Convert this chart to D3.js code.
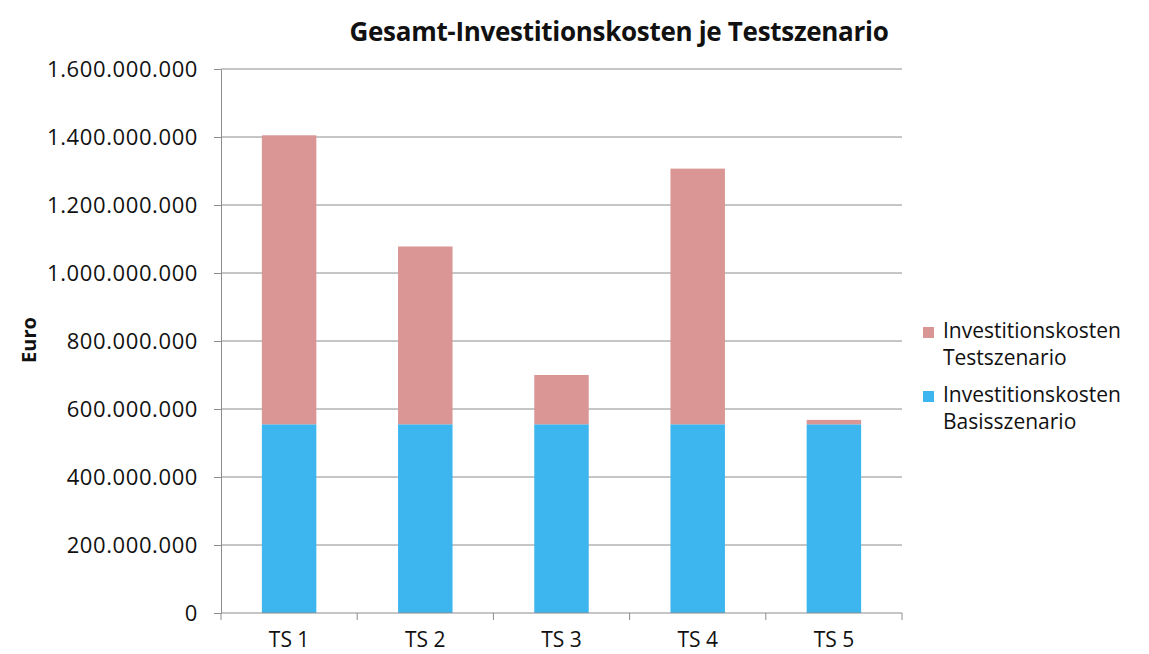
<!DOCTYPE html>
<html>
<head>
<meta charset="utf-8">
<script src="https://cdn.jsdelivr.net/npm/d3@7"></script>
<style>
  body { margin: 0; background: #fff; }
  svg { font-family: "Open Sans", "Noto Sans", sans-serif; }
</style>
</head>
<body>
<svg id="chart" width="1149" height="654"></svg>
<script>
// data
var categories = ["TS 1", "TS 2", "TS 3", "TS 4", "TS 5"];
var basisValues = [555000000, 555000000, 555000000, 555000000, 555000000];
var testValues = [850000000, 523000000, 145000000, 752000000, 13000000];
var yTicks = [0, 200000000, 400000000, 600000000, 800000000, 1000000000, 1200000000, 1400000000, 1600000000];
var seriesColors = ["#3db5ee", "#d99694"];

var svg = d3.select("#chart"),
  width = +svg.attr("width"),
  height = +svg.attr("height");

var margin = { left: 221, right: 247, top: 69, bottom: 41 };

var x = d3.scaleBand()
  .domain(categories)
  .range([margin.left, width - margin.right])
  .paddingInner(0.6)
  .paddingOuter(0.3);

var y = d3.scaleLinear()
  .domain([0, 1600000000])
  .range([height - margin.bottom, margin.top]);

// german number format
var de = d3.formatLocale({ decimal: ",", thousands: ".", grouping: [3], currency: ["", " €"] });
var fmt = de.format(",");

// gridlines
svg.append("g")
  .selectAll("line")
  .data(yTicks.slice(1))
  .enter().append("line")
  .attr("x1", margin.left)
  .attr("x2", width - margin.right)
  .attr("y1", function (d) { return y(d); })
  .attr("y2", function (d) { return y(d); })
  .attr("stroke", "#8c8c8c")
  .attr("stroke-width", 1);

// stacked bars
var rows = categories.map(function (c, i) {
  return { cat: c, basis: basisValues[i], test: testValues[i] };
});
var stack = d3.stack().keys(["basis", "test"]);
var layers = stack(rows);

svg.append("g")
  .selectAll("g")
  .data(layers)
  .enter().append("g")
  .attr("fill", function (d, i) { return seriesColors[i]; })
  .selectAll("rect")
  .data(function (d) { return d; })
  .enter().append("rect")
  .attr("x", function (d) { return x(d.data.cat); })
  .attr("width", x.bandwidth())
  .attr("y", function (d) { return y(d[1]); })
  .attr("height", function (d) { return y(d[0]) - y(d[1]); });

// y axis
var yAxis = svg.append("g")
  .attr("transform", "translate(" + margin.left + ",0)")
  .call(d3.axisLeft(y).tickValues(yTicks).tickFormat(fmt).tickSizeInner(7).tickSizeOuter(0).tickPadding(16));
yAxis.select(".domain").attr("stroke", "#8c8c8c");
yAxis.selectAll(".tick line").attr("stroke", "#8c8c8c");
yAxis.selectAll("text").attr("font-size", "22px").attr("fill", "#111")
  .attr("font-family", "'Open Sans', sans-serif")
  .attr("letter-spacing", "0.6px");

// x axis, ticks between categories
var xAxisG = svg.append("g")
  .attr("transform", "translate(0," + y(0) + ")");
xAxisG.append("line")
  .attr("x1", margin.left)
  .attr("x2", width - margin.right)
  .attr("stroke", "#8c8c8c");
var step = x.step();
var bounds = categories.map(function (c) { return x(c) - (step - x.bandwidth()) / 2; });
bounds.push(width - margin.right);
xAxisG.selectAll(".xt")
  .data(bounds)
  .enter().append("line")
  .attr("class", "xt")
  .attr("x1", function (d) { return d; })
  .attr("x2", function (d) { return d; })
  .attr("y1", 0)
  .attr("y2", 7)
  .attr("stroke", "#8c8c8c");
xAxisG.selectAll(".xl")
  .data(categories)
  .enter().append("text")
  .attr("class", "xl")
  .attr("x", function (d) { return x(d) + x.bandwidth() / 2; })
  .attr("y", 34)
  .attr("text-anchor", "middle")
  .attr("font-size", "21px")
  .attr("fill", "#111")
  .text(function (d) { return d; });

// title
svg.append("text")
  .attr("x", 619)
  .attr("y", 41)
  .attr("text-anchor", "middle")
  .attr("font-size", "26px")
  .attr("font-weight", "bold")
  .attr("letter-spacing", "-0.3px")
  .attr("fill", "#111")
  .text("Gesamt-Investitionskosten je Testszenario");

// y label
svg.append("text")
  .attr("transform", "translate(36,340) rotate(-90)")
  .attr("text-anchor", "middle")
  .attr("font-size", "20px")
  .attr("font-weight", "bold")
  .attr("fill", "#111")
  .text("Euro");

// legend (test on top, basis below)
var legendItems = [
  { color: seriesColors[1], lines: ["Investitionskosten", "Testszenario"] },
  { color: seriesColors[0], lines: ["Investitionskosten", "Basisszenario"] }
];
var legend = svg.append("g").attr("transform", "translate(923,0)");
var li = legend.selectAll("g")
  .data(legendItems)
  .enter().append("g")
  .attr("transform", function (d, i) { return "translate(0," + (i * 64) + ")"; });
li.append("rect")
  .attr("x", 0)
  .attr("y", 327)
  .attr("width", 11)
  .attr("height", 11)
  .attr("fill", function (d) { return d.color; });
li.append("text")
  .attr("x", 20)
  .attr("y", 338)
  .attr("font-size", "21px")
  .attr("fill", "#111")
  .selectAll("tspan")
  .data(function (d) { return d.lines; })
  .enter().append("tspan")
  .attr("x", 20)
  .attr("dy", function (d, i) { return i === 0 ? 0 : 27; })
  .text(function (d) { return d; });
</script>
</body>
</html>
